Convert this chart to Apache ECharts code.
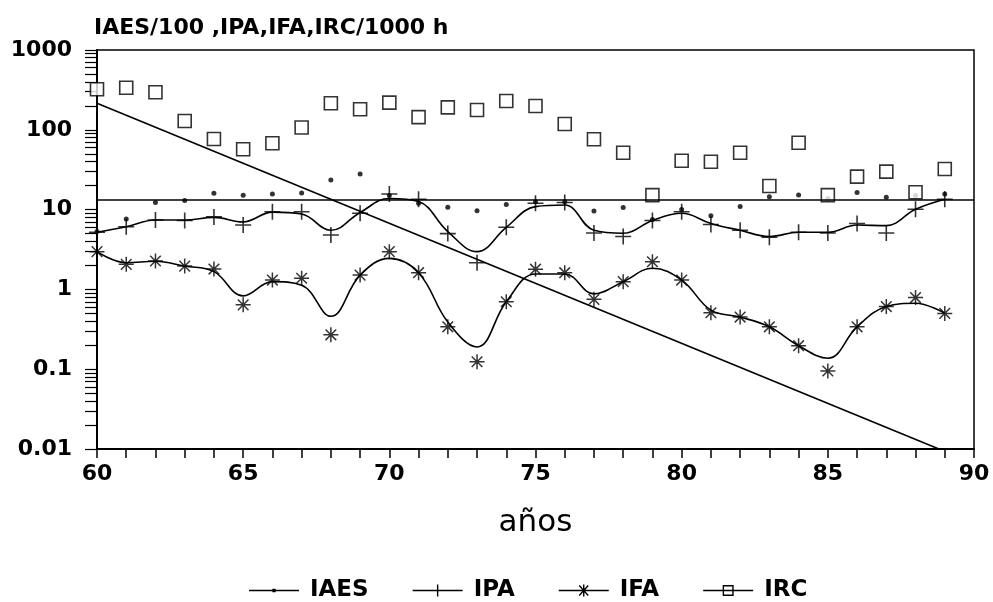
<!DOCTYPE html>
<html>
<head>
<meta charset="utf-8">
<script src="https://cdn.jsdelivr.net/npm/echarts@6/dist/echarts.min.js"></script>
<style>
  html, body { margin: 0; padding: 0; background: #fff; }
  #chart { width: 993px; height: 602px; }
</style>
</head>
<body>
<div id="chart"></div>
<script>
// años 60..89
const years = [60, 61, 62, 63, 64, 65, 66, 67, 68, 69, 70, 71, 72, 73, 74, 75, 76, 77, 78, 79, 80, 81, 82, 83, 84, 85, 86, 87, 88, 89]

const iaes = [5.3, 7.6, 12.3, 13.0, 16.0, 15.1, 15.7, 16.1, 23.5, 27.9, 15, 12.0, 10.7, 9.7, 11.6, 12.5, 12.5, 9.6, 10.6, 7.5, 10, 8.4, 10.9, 14.5, 15.2, 13.8, 16.4, 14.3, 15.0, 15.7]
const ipa = [5.2, 6.1, 7.4, 7.3, 8.1, 6.4, 9.4, 9.4, 4.8, 9.0, 15.7, 13.5, 5.0, 2.16, 6.0, 12.0, 12.3, 5.1, 4.6, 7.3, 9.4, 6.5, 5.5, 4.5, 5.2, 5.1, 6.7, 5.1, 10.1, 13.5]
const ifa = [2.97, 2.06, 2.27, 1.96, 1.80, 0.64, 1.31, 1.38, 0.27, 1.51, 2.97, 1.62, 0.34, 0.124, 0.70, 1.79, 1.62, 0.75, 1.25, 2.22, 1.31, 0.51, 0.45, 0.34, 0.197, 0.095, 0.34, 0.61, 0.79, 0.50]
const irc = [322, 337, 295, 129, 76.7, 57, 67.7, 107, 215, 181, 219, 144, 191, 177, 230, 199, 118, 76, 51.6, 15.2, 41, 39.8, 51.6, 19.8, 68.9, 15.2, 25.9, 29.9, 16.5, 32.3]

// curvas ajustadas
const ipaCurve = [5.2, 6.1, 7.4, 7.4, 8.0, 7.0, 9.3, 8.8, 5.5, 9.2, 13.8, 12.6, 5.3, 2.97, 6.0, 10.9, 11.4, 5.5, 5.05, 7.3, 9.0, 6.7, 5.5, 4.6, 5.2, 5.2, 6.4, 6.3, 10.1, 13.5]
const ifaCurve = [2.97, 2.16, 2.25, 1.96, 1.67, 0.83, 1.25, 1.13, 0.46, 1.51, 2.45, 1.62, 0.39, 0.19, 0.70, 1.56, 1.56, 0.88, 1.25, 1.84, 1.31, 0.55, 0.45, 0.34, 0.197, 0.137, 0.34, 0.61, 0.67, 0.50]

// rectas de tendencia
const flatYears = [60, 90]
const flatValues = [13.2, 13.2]
const slopeYears = [60, 88.8]
const slopeValues = [215, 0.01]

const yTickLabels = ['0.01', '0.1', '1', '10', '100', '1000']

const pairs = (xs, ys) => xs.map((x, i) => [x, ys[i]])

// minor log ticks 1..9 per decade
const logTicks = []
yTickLabels.forEach((t, i) => {
  const d = Number(t)
  if (i === yTickLabels.length - 1) { logTicks.push(d); return }
  for (let k = 1; k < 10; k++) logTicks.push(+(d * k).toPrecision(3))
})

const font = 'DejaVu Sans'
const black = '#000'

const plusPath = 'path://M0,45H100V55H0Z M45,0H55V100H45Z'
const starPath = 'path://M0,45H100V55H0Z M45,0H55V100H45Z M11,18L18,11L89,82L82,89Z M82,11L89,18L18,89L11,82Z'

// legend icons, 50x14 box
const box = 'M0,0L0.1,0L0,0.1Z M50,14L49.9,14L50,13.9Z '
const lineBar = 'M0,6.3H50V7.7H0Z '
const iconIaes = 'path://' + box + lineBar + 'M23.5,5.2L26.5,5.2L27,7L26.5,8.8L23.5,8.8L23,7Z'
const iconIpa = 'path://' + box + lineBar + 'M24.3,1H25.7V13H24.3Z'
const iconIfa = 'path://' + box + lineBar + 'M24.3,1H25.7V13H24.3Z M20,2.5L21,1.5L30,11.5L29,12.5Z M29,1.5L30,2.5L21,12.5L20,11.5Z'
const iconIrc = 'path://' + box + lineBar + 'M19.5,1.5H30.5V12.5H19.5Z M20.9,2.9V11.1H29.1V2.9Z'

const chart = echarts.init(document.getElementById('chart'))
const option = {
  animation: false,
  backgroundColor: '#fff',
  title: {
    text: 'IAES/100 ,IPA,IFA,IRC/1000 h',
    left: 89,
    top: 12,
    textStyle: { fontFamily: font, fontSize: 22, fontWeight: 'bold', color: black }
  },
  legend: {
    left: 244,
    top: 574,
    itemWidth: 50,
    itemHeight: 14,
    itemGap: 44,
    itemStyle: { borderWidth: 0, color: black },
    textStyle: { fontFamily: font, fontSize: 23, fontWeight: 'bold', color: black, padding: [0, 0, 0, 6] },
    data: [
      { name: 'IAES', icon: iconIaes },
      { name: 'IPA', icon: iconIpa },
      { name: 'IFA', icon: iconIfa },
      { name: 'IRC', icon: iconIrc }
    ]
  },
  grid: {
    left: 97,
    right: 19,
    top: 50,
    bottom: 153,
    show: true,
    borderColor: black,
    borderWidth: 1.5
  },
  xAxis: {
    type: 'value',
    min: 60,
    max: 90,
    interval: 5,
    name: 'años',
    nameLocation: 'middle',
    nameGap: 58,
    nameTextStyle: { fontFamily: font, fontSize: 31, color: black },
    axisLine: { lineStyle: { color: black, width: 2 } },
    axisTick: { show: true, length: 9, lineStyle: { color: black, width: 1.5 } },
    minorTick: { show: true, splitNumber: 5, length: 9, lineStyle: { color: black, width: 1.5 } },
    splitLine: { show: false },
    axisLabel: { fontFamily: font, fontSize: 22, fontWeight: 'bold', color: black, margin: 14 }
  },
  yAxis: {
    type: 'log',
    logBase: 10,
    min: 0.01,
    max: 1000,
    axisLine: { show: true, lineStyle: { color: black, width: 2 } },
    axisTick: { show: true, length: 12, customValues: logTicks, lineStyle: { color: black, width: 1.2 } },
    splitLine: { show: false },
    axisLabel: {
      fontFamily: font, fontSize: 22, fontWeight: 'bold', color: black, margin: 25,
      formatter: v => yTickLabels.find(t => Math.abs(Number(t) - v) < v * 1e-6) || ''
    }
  },
  series: [
    {
      name: 'IAES', type: 'line', data: pairs(flatYears, flatValues),
      showSymbol: false, color: black, lineStyle: { color: black, width: 1.6 }
    },
    {
      name: 'IRC', type: 'line', data: pairs(slopeYears, slopeValues),
      showSymbol: false, color: black, lineStyle: { color: black, width: 1.6 }
    },
    {
      name: 'IPA', type: 'line', smooth: 0.4, data: pairs(years, ipaCurve),
      showSymbol: false, color: black, lineStyle: { color: black, width: 1.6 }
    },
    {
      name: 'IFA', type: 'line', smooth: 0.4, data: pairs(years, ifaCurve),
      showSymbol: false, color: black, lineStyle: { color: black, width: 1.6 }
    },
    {
      name: 'IAES', type: 'scatter', data: pairs(years, iaes),
      symbol: 'circle', symbolSize: 5, itemStyle: { color: black }
    },
    {
      name: 'IPA', type: 'scatter', data: pairs(years, ipa),
      symbol: plusPath, symbolSize: 16, itemStyle: { color: black }
    },
    {
      name: 'IFA', type: 'scatter', data: pairs(years, ifa),
      symbol: starPath, symbolSize: 15, itemStyle: { color: black }
    },
    {
      name: 'IRC', type: 'scatter', data: pairs(years, irc),
      symbol: 'rect', symbolSize: 13,
      itemStyle: { color: '#fff', borderColor: black, borderWidth: 1.6 }
    }
  ]
}
chart.setOption(option)
</script>
</body>
</html>
